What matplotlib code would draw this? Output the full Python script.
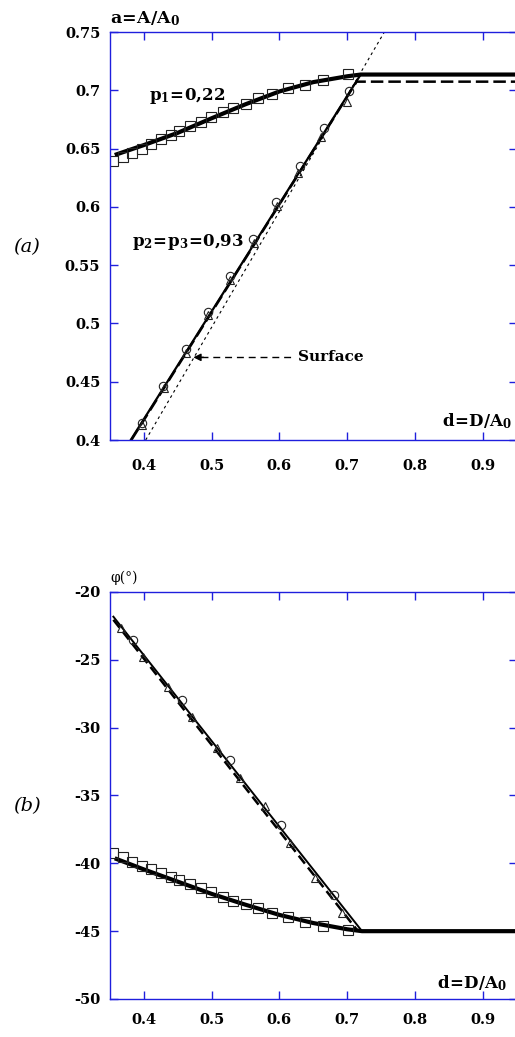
import matplotlib
matplotlib.use("Agg")
import matplotlib.pyplot as plt

plt.rcParams['mathtext.fontset'] = 'dejavuserif'
plt.rcParams['font.family'] = 'DejaVu Serif'

# ---------------- Panel (a) data ----------------
a_sq_x = [0.355, 0.369, 0.382, 0.397, 0.411, 0.425, 0.440, 0.452, 0.468, 0.484,
          0.499, 0.517, 0.532, 0.550, 0.568, 0.589, 0.613, 0.638, 0.664, 0.702]
a_sq_y = [0.639, 0.643, 0.6465, 0.6496, 0.654, 0.658, 0.6616, 0.665, 0.669, 0.673,
          0.677, 0.681, 0.6845, 0.688, 0.693, 0.6966, 0.7017, 0.7045, 0.7088, 0.7137]
a_p1_x = [0.357, 0.40, 0.45, 0.50, 0.55, 0.60, 0.65, 0.70, 0.72, 0.95]
a_p1_y = [0.6445, 0.653, 0.6635, 0.676, 0.688, 0.699, 0.707, 0.712, 0.7135, 0.7135]
a_p2_x = [0.3806, 0.72, 0.95]
a_p2_y = [0.400, 0.7135, 0.7135]
a_p2d_x = [0.3815, 0.714, 0.95]
a_p2d_y = [0.400, 0.7074, 0.7074]
a_ci_x = [0.3968, 0.4288, 0.4618, 0.4944, 0.5273, 0.5618, 0.5953, 0.6308, 0.6652, 0.7021]
a_ci_y = [0.4148, 0.4466, 0.4778, 0.5095, 0.541, 0.5724, 0.6044, 0.6353, 0.6674, 0.6997]
a_tr_x = [0.397, 0.429, 0.462, 0.494, 0.527, 0.562, 0.596, 0.628, 0.661, 0.700]
a_tr_y = [0.413, 0.445, 0.475, 0.507, 0.537, 0.569, 0.601, 0.6288, 0.6602, 0.6902]
surf_x = [0.4027, 0.755]
surf_y = [0.400, 0.750]

# ---------------- Panel (b) data ----------------
b_sq_x = a_sq_x
b_sq_y = [-39.26, -39.55, -39.87, -40.17, -40.44, -40.73, -40.98, -41.22, -41.54, -41.84,
          -42.13, -42.45, -42.75, -43.01, -43.31, -43.63, -43.97, -44.30, -44.61, -44.91]
b_p1_x = [0.357, 0.40, 0.45, 0.50, 0.55, 0.60, 0.65, 0.70, 0.722, 0.95]
b_p1_y = [-39.63, -40.45, -41.35, -42.25, -43.05, -43.80, -44.40, -44.86, -45.0, -45.0]
b_p2_x = [0.355, 0.722, 0.95]
b_p2_y = [-21.82, -45.0, -45.0]
b_p2d_x = [0.355, 0.716]
b_p2d_y = [-22.05, -45.0]
b_ci_x = [0.3845, 0.456, 0.5273, 0.6027, 0.680]
b_ci_y = [-23.54, -27.96, -32.38, -37.17, -42.33]
b_tr_x = [0.3658, 0.3993, 0.4362, 0.4716, 0.5077, 0.5421, 0.5791, 0.615, 0.653, 0.6924]
b_tr_y = [-22.68, -24.77, -26.98, -29.19, -31.47, -33.73, -35.77, -38.52, -41.10, -43.68]

x_ticks = [0.4, 0.5, 0.6, 0.7, 0.8, 0.9]
a_yticks = [0.4, 0.45, 0.5, 0.55, 0.6, 0.65, 0.7, 0.75]
a_ytl = ['0.4', '0.45', '0.5', '0.55', '0.6', '0.65', '0.7', '0.75']
b_yticks = [-50, -45, -40, -35, -30, -25, -20]

W, H = 515, 1037
fig = plt.figure(figsize=(W / 100, H / 100), dpi=100)
L = 110 / W
Wd = 406.5 / W
ax_a = fig.add_axes([L, (H - 440) / H, Wd, 408 / H])
ax_b = fig.add_axes([L, (H - 999) / H, Wd, 407 / H])

blue = '#1f1fdd'
tickfont = dict(family='DejaVu Serif', weight='bold', size=10.5)

def style(ax, xpad):
    for s in ax.spines.values():
        s.set_color(blue)
        s.set_linewidth(1.0)
    ax.tick_params(direction='in', length=6, width=1, color=blue,
                   top=True, right=True, labelsize=10.5)
    ax.tick_params(axis='x', pad=xpad)
    ax.tick_params(axis='y', pad=7)
    ax.set_xlim(0.35, 0.95)
    ax.set_xticks(x_ticks)
    ax.set_xticklabels([str(t) for t in x_ticks], fontdict=tickfont)

mk = dict(mfc='none', mec='#222222', mew=0.8, ls='none')

# ----- panel a -----
style(ax_a, 14)
ax_a.set_ylim(0.4, 0.75)
ax_a.set_yticks(a_yticks)
ax_a.set_yticklabels(a_ytl, fontdict=tickfont)
ax_a.plot(surf_x, surf_y, color='k', lw=0.8, dashes=(2.5, 3))
ax_a.plot(a_p2d_x, a_p2d_y, color='k', lw=1.8, dashes=(5, 2))
ax_a.plot(a_p2_x, a_p2_y, color='k', lw=1.6)
ax_a.plot(a_p1_x, a_p1_y, color='k', lw=3.0, solid_capstyle='butt')
ax_a.plot(a_sq_x, a_sq_y, marker='s', ms=6.5, **mk)
ax_a.plot(a_ci_x, a_ci_y, marker='o', ms=6, **mk)
ax_a.plot(a_tr_x, a_tr_y, marker='^', ms=6, **mk)

arrow_tip = (0.473, 0.4709)
arrow_tail = (0.621, 0.4709)
ax_a.plot([arrow_tip[0] + 0.012, arrow_tail[0]], [arrow_tip[1], arrow_tail[1]],
          color='k', lw=1.0, dashes=(5, 3.5))
ax_a.annotate('', xy=arrow_tip, xytext=(arrow_tip[0] + 0.015, arrow_tip[1]),
              arrowprops=dict(arrowstyle='-|>', color='k', lw=1, mutation_scale=11,
                              shrinkA=0, shrinkB=0))
ax_a.text(0.6268, 0.4709, 'Surface', fontsize=11, fontweight='bold', va='center', ha='left')
ax_a.text(0.408, 0.6915, r'$\mathbf{p_1\!=\!0{,}22}$', fontsize=12, ha='left', va='baseline')
ax_a.text(0.383, 0.5665, r'$\mathbf{p_2\!=\!p_3\!=\!0{,}93}$', fontsize=12, ha='left', va='baseline')
ax_a.text(0.35, 0.7575, r'$\mathbf{a\!=\!A/A_0}$', fontsize=12.5, ha='left', va='baseline',
          clip_on=False)
ax_a.text(0.84, 0.4115, r'$\mathbf{d\!=\!D/A_0}$', fontsize=12, ha='left', va='baseline',
          clip_on=False)
fig.text(13 / W, 1 - 247 / H, '(a)', fontsize=14, style='italic', va='center', ha='left')

# ----- panel b -----
style(ax_b, 10)
ax_b.set_ylim(-50, -20)
ax_b.set_yticks(b_yticks)
ax_b.set_yticklabels([str(t) for t in b_yticks], fontdict=tickfont)
ax_b.plot(b_p2d_x, b_p2d_y, color='k', lw=1.8, dashes=(4, 2))
ax_b.plot(b_p2_x, b_p2_y, color='k', lw=1.4)
ax_b.plot(b_p1_x, b_p1_y, color='k', lw=3.0, solid_capstyle='butt')
ax_b.plot(b_sq_x, b_sq_y, marker='s', ms=6.5, **mk)
ax_b.plot(b_ci_x, b_ci_y, marker='o', ms=6, **mk)
ax_b.plot(b_tr_x, b_tr_y, marker='^', ms=6, **mk)
ax_b.text(0.35, -19.25, r'φ(°)', fontsize=10, ha='left', va='baseline', clip_on=False)
ax_b.text(0.833, -49.18, r'$\mathbf{d\!=\!D/A_0}$', fontsize=12, ha='left', va='baseline',
          clip_on=False)
fig.text(13 / W, 1 - 806 / H, '(b)', fontsize=14, style='italic', va='center', ha='left')

fig.savefig('out.png', dpi=100)
